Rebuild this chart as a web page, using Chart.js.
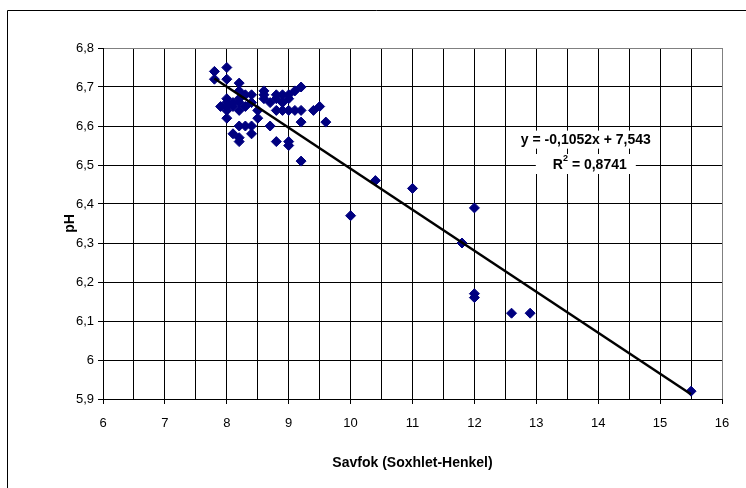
<!DOCTYPE html>
<html>
<head>
<meta charset="utf-8">
<script src="https://cdn.jsdelivr.net/npm/chart.js@4.4.0/dist/chart.umd.min.js"></script>
<style>
  body { margin: 0; background: #fff; }
  canvas { display: block; }
</style>
</head>
<body>
<canvas id="chart" width="746" height="488"></canvas>
<script>
// fat content (Soxhlet-Henkel) vs pH
var fat = [7.8, 7.8, 7.9, 8.0, 8.0, 8.0, 8.0, 8.0, 8.0, 8.0,
           8.1, 8.1, 8.1, 8.2, 8.2, 8.2, 8.2, 8.2, 8.2, 8.2,
           8.2, 8.3, 8.3, 8.3, 8.4, 8.4, 8.4, 8.4, 8.5, 8.5,
           8.6, 8.6, 8.6, 8.7, 8.7, 8.8, 8.8, 8.8, 8.8, 8.9,
           8.9, 8.9, 9.0, 9.0, 9.0, 9.0, 9.0, 9.1, 9.1, 9.2,
           9.2, 9.2, 9.2, 9.4, 9.5, 9.6,
           10.0, 10.4, 11.0, 11.8, 12.0, 12.0, 12.0, 12.6, 12.9, 15.5];
var ph = [6.74, 6.72, 6.65, 6.75, 6.72, 6.67, 6.66, 6.65, 6.64, 6.62,
          6.66, 6.58, 6.65, 6.71, 6.69, 6.67, 6.66, 6.64, 6.60, 6.57,
          6.56, 6.68, 6.65, 6.60, 6.68, 6.66, 6.58, 6.60, 6.64, 6.62,
          6.69, 6.68, 6.67, 6.66, 6.60, 6.68, 6.67, 6.64, 6.56, 6.68,
          6.66, 6.64, 6.68, 6.67, 6.64, 6.56, 6.55, 6.69, 6.64, 6.70,
          6.64, 6.61, 6.51, 6.64, 6.65, 6.61,
          6.37, 6.46, 6.44, 6.30, 6.39, 6.17, 6.16, 6.12, 6.12, 5.92];

// ends of the Excel trendline
var trendX = [7.8, 15.5];
var trendY = [6.722, 5.912];

var equationText = 'y = -0,1052x + 7,543';
var r2Value = '0,8741';

var xMin = 6, xMax = 16, xStep = 0.5;
var yMin = 5.9, yMax = 6.8, yStep = 0.1;

var fontFamily = '"Liberation Sans", Arial, sans-serif';

function fmt(v) {
  return String(Number(v.toFixed(1))).replace('.', ',');
}

var points = fat.map(function(x, i) { return { x: x, y: ph[i] }; });
var trend = trendX.map(function(x, i) { return { x: x, y: trendY[i] }; });

// outer frame of the chart object
var framePlugin = {
  id: 'frame',
  beforeDraw: function(chart) {
    var ctx = chart.ctx;
    ctx.save();
    ctx.fillStyle = '#fff';
    ctx.fillRect(0, 0, chart.width, chart.height);
    ctx.strokeStyle = '#000';
    ctx.lineWidth = 1;
    ctx.beginPath();
    ctx.moveTo(7.5, chart.height);
    ctx.lineTo(7.5, 10.5);
    ctx.lineTo(chart.width, 10.5);
    ctx.stroke();
    ctx.restore();
  }
};

// regression equation text
var equationPlugin = {
  id: 'equation',
  afterDatasetsDraw: function(chart) {
    var ctx = chart.ctx;
    var xs = chart.scales.x, ys = chart.scales.y;
    var big = 'bold 14px ' + fontFamily, small = 'bold 9px ' + fontFamily;
    ctx.save();
    ctx.font = big;
    ctx.textAlign = 'center';
    ctx.textBaseline = 'middle';
    var cx = xs.getPixelForValue(13.8);
    var y1 = ys.getPixelForValue(6.565);
    var y2 = ys.getPixelForValue(6.5);
    var w1 = ctx.measureText(equationText).width;
    ctx.fillStyle = '#fff';
    ctx.fillRect(cx - w1 / 2 - 2, y1 - 9, w1 + 4, 18);
    ctx.fillRect(cx - 50, y2 - 11, 100, 20);
    ctx.fillStyle = '#000';
    ctx.fillText(equationText, cx, y1);
    var a = 'R', b = ' = ' + r2Value;
    var wa = ctx.measureText(a).width;
    ctx.font = small;
    var ws = ctx.measureText('2').width;
    ctx.font = big;
    var wb = ctx.measureText(b).width;
    var start = cx - (wa + ws + wb) / 2 + 4;
    ctx.textAlign = 'left';
    ctx.fillText(a, start, y2);
    ctx.font = small;
    ctx.fillText('2', start + wa, y2 - 6);
    ctx.font = big;
    ctx.fillText(b, start + wa + ws, y2);
    ctx.restore();
  }
};

var ctx = document.getElementById('chart').getContext('2d');
var chart = new Chart(ctx, {
  type: 'scatter',
  data: {
    datasets: [{
      type: 'line',
      data: trend,
      borderColor: '#000',
      borderWidth: 2.5,
      pointRadius: 0,
      fill: false,
      order: 0
    }, {
      data: points,
      backgroundColor: '#000080',
      borderColor: '#000080',
      pointStyle: 'rectRot',
      pointRadius: 5,
      pointHoverRadius: 5,
      order: 1
    }]
  },
  options: {
    responsive: false,
    animation: false,
    events: [],
    layout: { padding: { left: 62, right: 24, top: 48, bottom: 16 } },
    plugins: {
      legend: { display: false },
      tooltip: { enabled: false }
    },
    scales: {
      x: {
        type: 'linear',
        min: xMin,
        max: xMax,
        ticks: {
          stepSize: xStep,
          color: '#000',
          padding: 12,
          font: { family: fontFamily, size: 13 },
          callback: function(v) { return Number.isInteger(v) ? fmt(v) : ''; }
        },
        grid: {
          tickLength: 5,
          color: function(c) { return c.tick && c.tick.value === xMax ? '#808080' : '#000'; },
          tickColor: function(c) { return c.tick && Number.isInteger(c.tick.value) ? '#000' : 'rgba(0,0,0,0)'; }
        },
        border: { color: '#000' },
        title: {
          display: true,
          text: 'Savfok (Soxhlet-Henkel)',
          color: '#000',
          padding: { top: 14, bottom: 0 },
          font: { family: fontFamily, size: 14, weight: 'bold' }
        },
        afterFit: function(scale) { scale.height = 73; }
      },
      y: {
        min: yMin,
        max: yMax,
        ticks: {
          stepSize: yStep,
          color: '#000',
          padding: 4,
          font: { family: fontFamily, size: 13 },
          callback: function(v) { return fmt(v); }
        },
        grid: {
          tickLength: 5,
          color: function(c) { return c.tick && Math.abs(c.tick.value - yMax) < 1e-6 ? '#808080' : '#000'; },
          tickColor: '#000'
        },
        border: { color: '#000' },
        title: {
          display: true,
          text: 'pH',
          color: '#000',
          padding: { top: 0, bottom: 0 },
          font: { family: fontFamily, size: 14, weight: 'bold' }
        },
        afterFit: function(scale) { scale.width = 41; }
      }
    }
  },
  plugins: [framePlugin, equationPlugin]
});
</script>
</body>
</html>
